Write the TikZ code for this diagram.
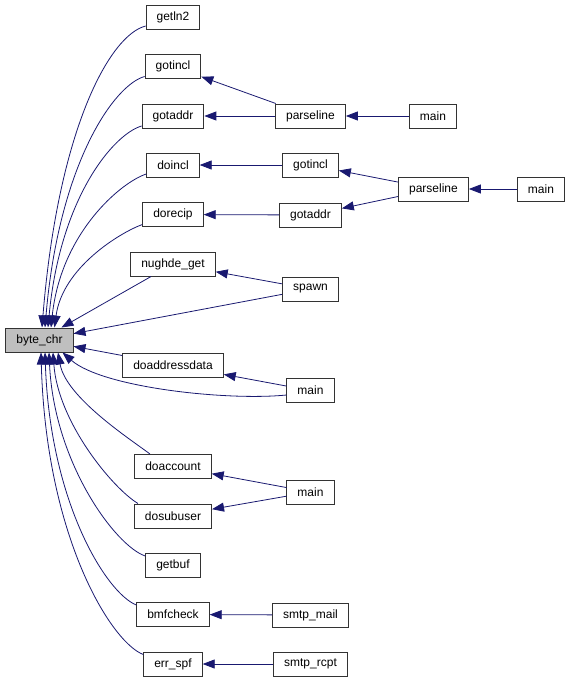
\documentclass[tikz,border=0pt]{standalone}
\usepackage{fontspec}
\setmainfont{Liberation Sans}
\usetikzlibrary{arrows.meta}
\definecolor{borde}{HTML}{333333}
\definecolor{flecha}{HTML}{191970}
\definecolor{gris}{HTML}{BFBFBF}

\begin{document}
\begin{tikzpicture}[x=1pt,y=-1pt,font=\fontsize{12}{14}\selectfont,
  fn/.style={draw=borde,fill=white,line width=1pt,minimum height=24pt,inner xsep=10.5pt,inner ysep=0pt},
  raiz/.style={fn,fill=gris},
  llamada/.style={draw=flecha,line width=0.8pt,-{Triangle[length=12pt,width=9pt]}}]
\useasboundingbox (0,0) rectangle (571,681);
\node[raiz] (byte) at (39.5,340) {byte\_chr};
\foreach \n/\t/\y in {getln2/getln2/17, gotinclA/gotincl/66.5, gotaddrA/gotaddr/116, doincl/doincl/165,
    dorecip/dorecip/214.5, nughde/nughde\_get/264, doaddr/doaddressdata/365, doaccount/doaccount/466.5,
    dosubuser/dosubuser/516, getbuf/getbuf/565, bmfcheck/bmfcheck/614.5, errspf/err\_spf/664}
  \node[fn] (\n) at (173,\y) {\t};
\node[fn] (parseA) at (310.5,116) {parseline};
\node[fn] (mainA) at (433,116) {main};
\node[fn] (gotinclB) at (310.5,165) {gotincl};
\node[fn] (gotaddrB) at (310.5,215) {gotaddr};
\node[fn] (parseB) at (433.5,189) {parseline};
\node[fn] (mainB) at (541,189) {main};
\node[fn] (spawn) at (310.5,289) {spawn};
\node[fn] (mainC) at (310.5,390.5) {main};
\node[fn] (mainD) at (310.5,492) {main};
\node[fn] (smtpmail) at (310.5,615) {smtp\_mail};
\node[fn] (smtprcpt) at (310.5,664) {smtp\_rcpt};
\foreach \a/\b in {parseA/gotinclA, parseA/gotaddrA, mainA/parseA, gotinclB/doincl, gotaddrB/dorecip,
    parseB/gotinclB, parseB/gotaddrB, mainB/parseB, spawn/nughde, spawn/byte, nughde/byte, doaddr/byte,
    mainC/doaddr, mainD/doaccount, mainD/dosubuser, smtpmail/bmfcheck, smtprcpt/errspf}
  \draw[llamada] (\a) -- (\b);
% llamadas curvas hacia byte_chr
\draw[llamada] ([yshift=-9pt]getln2.west) .. controls +(-36,9) and +(16,-198) .. ([xshift=2.5pt]byte.north);
\draw[llamada] ([yshift=-10pt]gotinclA.west) .. controls +(-30,8) and +(14,-165) .. ([xshift=5.5pt]byte.north);
\draw[llamada] ([yshift=-10pt]gotaddrA.west) .. controls +(-28,8) and +(12,-130) .. ([xshift=8.5pt]byte.north);
\draw[llamada] ([yshift=-9pt]doincl.west) .. controls +(-25,8) and +(10,-95) .. ([xshift=11.5pt]byte.north);
\draw[llamada] ([yshift=-10pt]dorecip.west) .. controls +(-22,8) and +(8,-60) .. ([xshift=15pt]byte.north);
\draw[llamada] ([yshift=-4.5pt]mainC.west) .. controls +(-60,6) and +(40,35) .. ([xshift=23pt]byte.south);
\draw[llamada] ([xshift=-23pt]doaccount.north) .. controls +(-20,-15) and +(8,45) .. ([xshift=18.5pt]byte.south);
\draw[llamada] ([xshift=4pt]dosubuser.north west) .. controls +(-25,-15) and +(5,70) .. ([xshift=13.5pt]byte.south);
\draw[llamada] ([yshift=9pt]getbuf.west) .. controls +(-30,-10) and +(5,110) .. ([xshift=9.5pt]byte.south);
\draw[llamada] ([yshift=-3pt]bmfcheck.north west) .. controls +(-30,-12) and +(5,150) .. ([xshift=5.5pt]byte.south);
\draw[llamada] ([yshift=-3pt]errspf.north west) .. controls +(-32,-12) and +(5,185) .. ([xshift=1.5pt]byte.south);
\end{tikzpicture}
\end{document}
